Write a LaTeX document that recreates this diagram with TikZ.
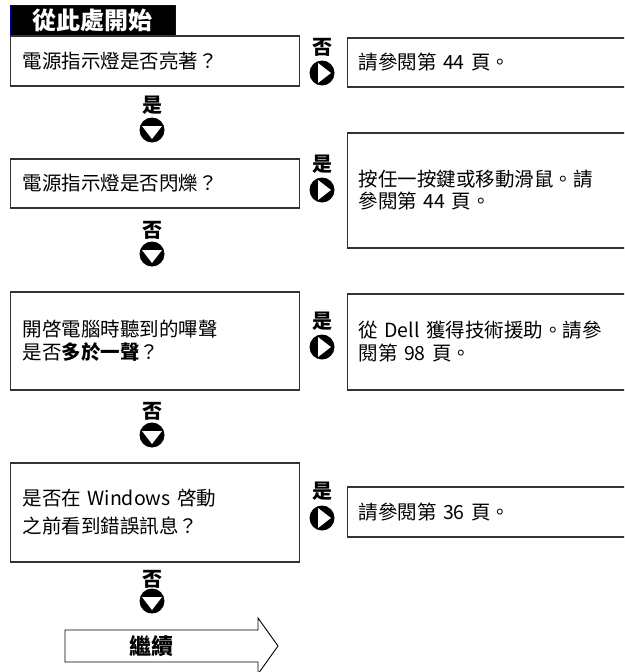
\documentclass[tikz,border=0pt]{standalone}
\usepackage{fontspec}
\setmainfont{Noto Sans CJK TC}
\usetikzlibrary{positioning}

\begin{document}
\begin{tikzpicture}
    [x=1pt,y=-1pt,
    question/.style={rectangle,draw=black!80,line width=1.1pt,anchor=west,
    minimum width=289pt,inner xsep=12pt,text width=265pt,align=left,
    font=\fontsize{19.5}{23}\selectfont},
    answer/.style={question,minimum width=300pt,inner xsep=11pt,text width=278pt},
    downmark/.style={circle,fill=black,inner sep=0pt,minimum size=25pt,
    path picture={\fill[white] ([shift={(-10pt,4pt)}]path picture bounding box.center)
    -- ++(20pt,0pt) -- ++(-10pt,-13pt) -- cycle;}},
    rightmark/.style={circle,fill=black,inner sep=0pt,minimum size=25pt,
    path picture={\fill[white] ([shift={(-4pt,10pt)}]path picture bounding box.center)
    -- ++(0pt,-20pt) -- ++(13pt,10pt) -- cycle;}},
    tag/.style={inner sep=0pt,font=\fontsize{20}{20}\selectfont\bfseries}]
    \useasboundingbox (0,0) rectangle (624,672);
    \clip (0,0) rectangle (624,672);
    % start banner
    \node[fill=black,draw=blue!60!black,line width=0.6pt,anchor=north west,
    minimum width=165pt,minimum height=31pt,text=white,
    font=\fontsize{24}{24}\selectfont\bfseries] (start) at (10,5) {從此處開始};
    % questions
    \node[question,minimum height=50pt] (lit) at (10,61) {電源指示燈是否亮著？};
    \node[question,minimum height=49pt] (blink) at (10,183.5) {電源指示燈是否閃爍？};
    \node[question,minimum height=98pt] (beep) at (10,341)
    {開啓電腦時聽到的嗶聲\\是否\textbf{多於一聲}？};
    \node[question,minimum height=99pt] (winerr) at (10,512.5)
    {是否在 Windows 啓動\\[5pt]之前看到錯誤訊息？};
    % answers
    \node[answer,minimum height=49pt] (see44) at (347,62.5) {請參閱第 44 頁。};
    \node[answer,minimum height=115pt] (mouse) at (347,190.5)
    {按任一按鍵或移動滑鼠。請\\[-1pt]參閱第 44 頁。};
    \node[answer,minimum height=96pt] (dell) at (347,342)
    {從 Dell 獲得技術援助。請參\\閱第 98 頁。};
    \node[answer,minimum height=50pt] (see36) at (347,512) {請參閱第 36 頁。};
    % down markers
    \node[downmark] (down1) at (152,130) {};
    \node[downmark] (down2) at (152,254) {};
    \node[downmark] (down3) at (152,435) {};
    \node[downmark] (down4) at (152,601) {};
    \node[tag] (yes1) [above=3pt of down1] {是};
    \node[tag] (no2) [above=2pt of down2] {否};
    \node[tag] (no3) [above=2pt of down3] {否};
    \node[tag] (no4) [above=0pt of down4] {否};
    % side markers
    \node[rightmark] (right1) at (322,73) {};
    \node[rightmark] (right2) at (322,190) {};
    \node[rightmark] (right3) at (322,347) {};
    \node[rightmark] (right4) at (322,518) {};
    \node[tag] (no1) [above=4pt of right1] {否};
    \node[tag] (yes2) [above=4pt of right2] {是};
    \node[tag] (yes3) [above=4pt of right3] {是};
    \node[tag] (yes4) [above=5pt of right4] {是};
    % continue arrow
    \draw[line width=0.9pt,fill=white] (65,630) -- (258,630) -- (258,618)
    -- (278,646) -- (258,674) -- (258,662) -- (65,662) -- cycle;
    \node[font=\fontsize{22}{22}\selectfont\bfseries] (go) at (151,646) {繼續};
\end{tikzpicture}
\end{document}
